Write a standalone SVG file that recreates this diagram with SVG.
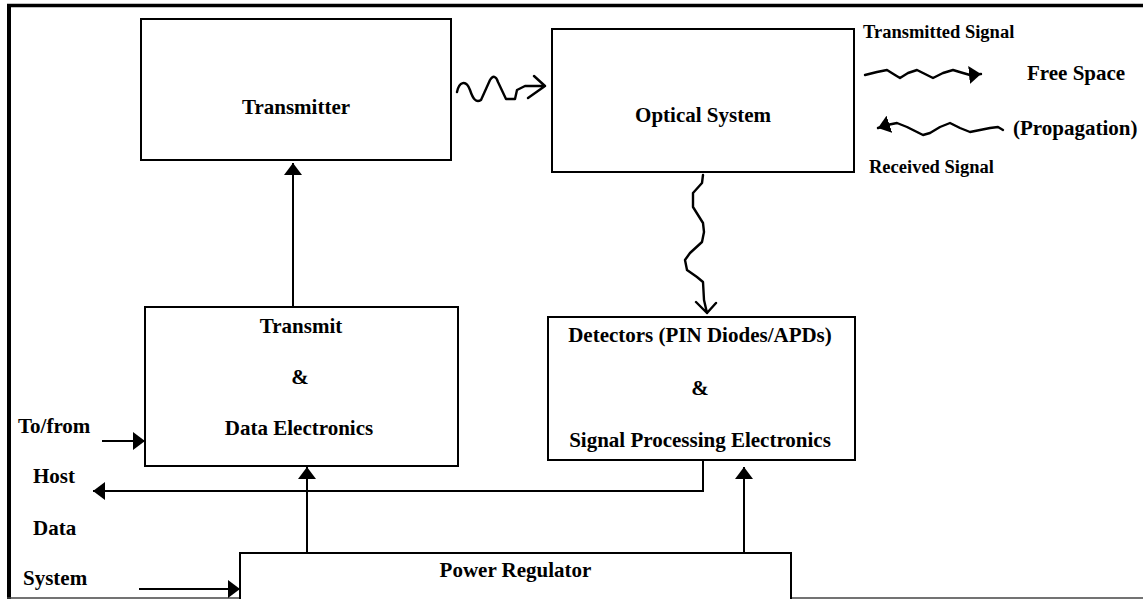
<svg xmlns="http://www.w3.org/2000/svg" width="1143" height="599" viewBox="0 0 1143 599">
<style>
.box{fill:#fff;stroke:#000;stroke-width:2}
.t{font-family:"Liberation Serif","Times New Roman",serif;font-weight:bold;font-size:21px;fill:#000}
.s{font-size:18.5px}
.m{text-anchor:middle}
.ln{fill:none;stroke:#000;stroke-width:2}
.wv{fill:none;stroke:#000;stroke-width:2.4;stroke-linejoin:round;stroke-linecap:round}
</style>
<defs>
<marker id="ah" viewBox="0 0 12 18" refX="12" refY="9" markerWidth="12" markerHeight="18" markerUnits="userSpaceOnUse" orient="auto">
<path d="M0,0 L12,9 L0,18 z" fill="#000"/>
</marker>
</defs>
<rect width="1143" height="599" fill="#fff"/>
<g id="frame">
<path d="M7,5.5 H1143" stroke="#000" stroke-width="3.5"/>
<path d="M9,4 V599" stroke="#000" stroke-width="4"/>
<path d="M7,598 H1143" stroke="#444" stroke-width="1.5"/>
</g>
<g id="transmitter">
<rect class="box" x="141" y="19" width="310" height="141"/>
<text class="t m" x="296" y="114">Transmitter</text>
</g>
<g id="optical-system">
<rect class="box" x="552" y="29" width="302" height="143"/>
<text class="t m" x="703" y="122">Optical System</text>
</g>
<g id="transmit-data-electronics">
<rect class="box" x="145" y="307" width="313" height="159"/>
<text class="t m" x="301" y="333">Transmit</text>
<text class="t m" x="300" y="384">&amp;</text>
<text class="t m" x="299" y="435">Data Electronics</text>
</g>
<g id="detectors">
<rect class="box" x="548" y="317" width="307" height="143"/>
<text class="t m" x="700" y="342">Detectors (PIN Diodes/APDs)</text>
<text class="t m" x="700" y="395">&amp;</text>
<text class="t m" x="700" y="447">Signal Processing Electronics</text>
</g>
<g id="power-regulator">
<rect class="box" x="240" y="553" width="551" height="60"/>
<text class="t m" x="515.5" y="577">Power Regulator</text>
</g>
<g id="host-labels">
<text class="t" x="18" y="433">To/from</text>
<text class="t" x="33" y="483">Host</text>
<text class="t" x="33" y="535">Data</text>
<text class="t" x="23" y="585">System</text>
</g>
<g id="legend">
<text class="t s" x="863" y="38">Transmitted Signal</text>
<text class="t" x="1027" y="80">Free Space</text>
<text class="t" x="1013" y="135">(Propagation)</text>
<text class="t s" x="869" y="173">Received Signal</text>
<path class="wv" d="M865,75 L877,72 L887,70 L895,75 L900,78 L908,73 L917,70 L927,75 L933,78 L943,73 L953,70 L963,73 L970,75 L981,74" marker-end="url(#ah)"/>
<path class="wv" d="M1003,130 L998,127 L990,128 L980,130 L970,132 L960,128 L950,123 L940,127 L930,133 L923,135 L917,132 L907,127 L897,123 L887,125 L878,128" marker-end="url(#ah)"/>
</g>
<g id="connectors">
<path class="ln" d="M293,307 V163" marker-end="url(#ah)"/>
<path class="ln" d="M307,553 V467" marker-end="url(#ah)"/>
<path class="ln" d="M744,553 V467" marker-end="url(#ah)"/>
<path class="ln" d="M703,461 V491 H93" marker-end="url(#ah)"/>
<path class="ln" d="M102,441 H145" marker-end="url(#ah)"/>
<path class="ln" d="M139,589 H240" marker-end="url(#ah)"/>
<path class="wv" d="M457,92 C459,82 466,79 470,90 C473,99 476,103 481,100 L490,80 C493,75 496,76 498,82 L506,99 L515,99 L517,90 L525,86 L545,86 M534,76 L545,86 L528,98"/>
<path class="wv" d="M703,175 L702,183 L693,193 L693,207 L703,223 L704,232 L702,242 L690,253 L685,260 L687,270 L697,277 L703,282 L704,300 L707,313 M696,302 L707,313 L716,303"/>
</g>
</svg>
